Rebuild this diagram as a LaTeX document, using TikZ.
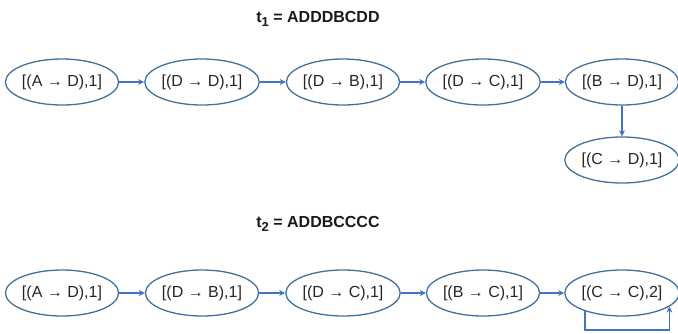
\documentclass[tikz,border=0pt]{standalone}
\usepackage{fontspec}
\setmainfont{Liberation Sans}
\usetikzlibrary{shapes.geometric,arrows.meta}
\definecolor{rimblue}{HTML}{41719C}
\definecolor{linkblue}{HTML}{4472C4}
\tikzset{state/.style={ellipse, draw=rimblue, line width=1.3pt, minimum width=111pt, minimum height=46pt, inner sep=0pt, text=black!85, font=\fontsize{16}{19}\selectfont},
         link/.style={linkblue, line width=1.4pt, -{Stealth[length=6pt,width=6pt]}},
         heading/.style={font=\fontsize{16}{19}\selectfont\bfseries, text=black!90}}
% subscript index in the headings
\newcommand{\seqidx}[1]{\raisebox{-4pt}{\fontsize{13}{13}\selectfont #1}}

\begin{document}
\begin{tikzpicture}[x=1pt,y=1pt]
  \useasboundingbox (0,0) rectangle (678,-333);
  % first sequence
  \node[heading] (ha) at (318,-19) {t\seqidx{1} = ADDDBCDD};
  \node[state] (a1) at ( 62,-82) {[(A → D),1]};
  \node[state] (a2) at (202,-82) {[(D → D),1]};
  \node[state] (a3) at (343,-82) {[(D → B),1]};
  \node[state] (a4) at (483,-82) {[(D → C),1]};
  \node[state] (a5) at (622,-82) {[(B → D),1]};
  \node[state] (a6) at (622,-160) {[(C → D),1]};
  \draw[link] (a1) -- (a2);
  \draw[link] (a2) -- (a3);
  \draw[link] (a3) -- (a4);
  \draw[link] (a4) -- (a5);
  \draw[link] (a5) -- (a6);
  % second sequence
  \node[heading] (hb) at (318,-224) {t\seqidx{2} = ADDBCCCC};
  \node[state] (b1) at ( 62,-293) {[(A → D),1]};
  \node[state] (b2) at (202,-293) {[(D → B),1]};
  \node[state] (b3) at (343,-293) {[(D → C),1]};
  \node[state] (b4) at (483,-293) {[(B → C),1]};
  \node[state] (b5) at (622,-293) {[(C → C),2]};
  \draw[link] (b1) -- (b2);
  \draw[link] (b2) -- (b3);
  \draw[link] (b3) -- (b4);
  \draw[link] (b4) -- (b5);
  \draw[link] (b5.206) -- ++(0,-19) -| (b5.344);
\end{tikzpicture}
\end{document}
